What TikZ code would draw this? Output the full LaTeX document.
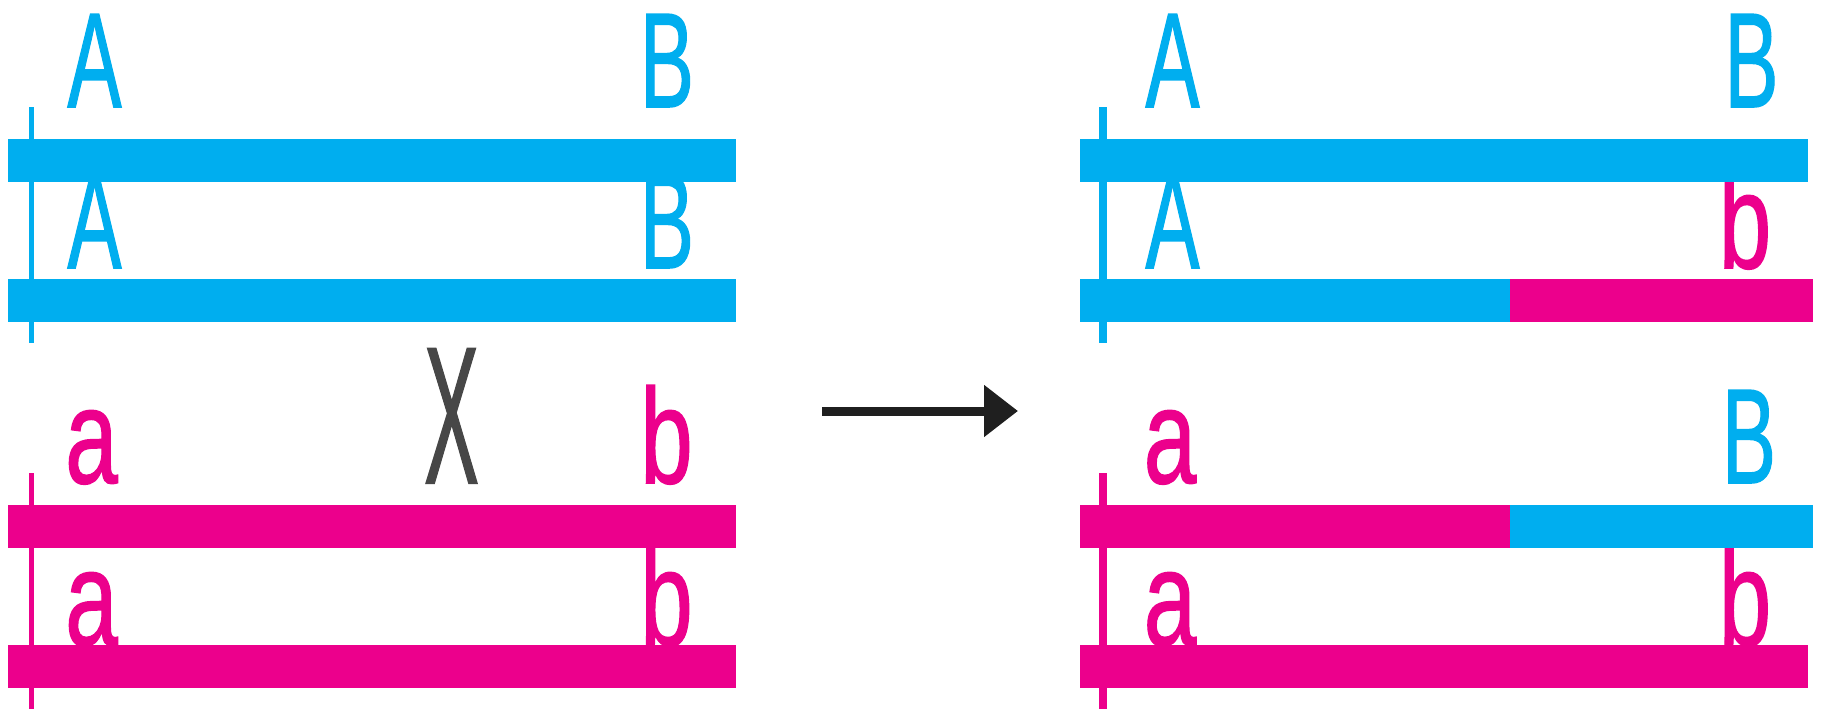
\documentclass[tikz,border=0pt]{standalone}
\usepackage{fontspec}
\setmainfont{Liberation Sans}
\newfontfamily\lblfont[FakeBold=1.2]{Liberation Sans}
\usetikzlibrary{arrows.meta}
\definecolor{cyanbar}{HTML}{00AEEF}
\definecolor{magbar}{HTML}{EC008C}
\tikzset{
  lbl/.style={inner sep=0pt, anchor=base, font=\lblfont\fontsize{135}{140}\selectfont},
  bluelbl/.style={lbl, text=cyanbar},
  pinklbl/.style={lbl, text=magbar},
  xlbl/.style={inner sep=0pt, anchor=base, font=\lblfont\fontsize{195}{200}\selectfont, text=black!72},
  cbar/.style={fill=cyanbar, draw=none},
  mbar/.style={fill=magbar, draw=none},
  shiftarrow/.style={draw=black!88, line width=9pt, -{Triangle[length=34pt,width=50pt]}}
}
\newcommand{\capsq}[1]{\scalebox{0.6}[1]{#1}}
\newcommand{\lowsq}[1]{\scalebox{0.7}[1]{#1}}
\begin{document}
\begin{tikzpicture}[x=1pt, y=-1pt]
\useasboundingbox (0,0) rectangle (1823,711);

% ---------- left panel: letters (drawn first, bars cover them) ----------
\node[bluelbl] (LA1) at (94.5,107) {\capsq{A}};
\node[bluelbl] (LB1) at (667,107) {\capsq{B}};
\node[bluelbl] (LA2) at (94.5,268) {\capsq{A}};
\node[bluelbl] (LB2) at (667,268) {\capsq{B}};
\node[pinklbl] (La1) at (91.5,483) {\lowsq{a}};
\node[pinklbl] (Lb1) at (666.5,483) {\lowsq{b}};
\node[pinklbl] (La2) at (91.5,645) {\lowsq{a}};
\node[pinklbl] (Lb2) at (666.5,645) {\lowsq{b}};
\node[xlbl] (cross) at (451.5,483) {\scalebox{0.42}[1]{X}};

% ---------- right panel: letters ----------
\node[bluelbl] (RA1) at (1172.5,107) {\capsq{A}};
\node[bluelbl] (RB1) at (1751.5,107) {\capsq{B}};
\node[bluelbl] (RA2) at (1172.5,268) {\capsq{A}};
\node[pinklbl] (Rb2) at (1745,268) {\lowsq{b}};
\node[pinklbl] (Ra3) at (1170,483) {\lowsq{a}};
\node[bluelbl] (RB3) at (1749,483) {\capsq{B}};
\node[pinklbl] (Ra4) at (1170,645) {\lowsq{a}};
\node[pinklbl] (Rb4) at (1745,645) {\lowsq{b}};

% ---------- left panel: bars ----------
\fill[cbar] (8,139) rectangle (736,182);
\fill[cbar] (8,279) rectangle (736,322);
\fill[mbar] (8,505) rectangle (736,548);
\fill[mbar] (8,645) rectangle (736,688);
\fill[cbar] (29,107) rectangle (34.3,343);
\fill[mbar] (29,473) rectangle (34.3,709);

% ---------- right panel: bars ----------
\fill[cbar] (1080,139) rectangle (1808,182);
\fill[cbar] (1080,279) rectangle (1510,322);
\fill[mbar] (1510,279) rectangle (1813,322);
\fill[mbar] (1080,505) rectangle (1510,548);
\fill[cbar] (1510,505) rectangle (1813,548);
\fill[mbar] (1080,645) rectangle (1808,688);
\fill[cbar] (1099.3,107) rectangle (1106.7,343);
\fill[mbar] (1099.3,473) rectangle (1106.7,709);

% ---------- arrow ----------
\coordinate (arrowstart) at (822,411);
\coordinate (arrowend) at (1018,411);
\draw[shiftarrow] (arrowstart) -- (arrowend);
\end{tikzpicture}
\end{document}
